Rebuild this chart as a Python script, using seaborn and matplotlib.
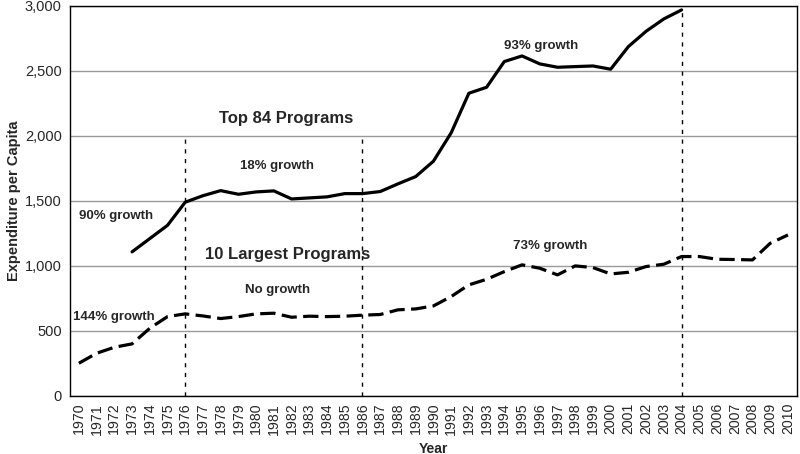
import numpy as np
import pandas as pd
import matplotlib
matplotlib.use("Agg")
import matplotlib.pyplot as plt
import seaborn as sns

years = list(range(1970, 2011))
top84 = [np.nan, np.nan, np.nan, 1108, 1210, 1312, 1490, 1540, 1579, 1551, 1569, 1577,
         1515, 1523, 1531, 1556, 1556, 1572, 1631, 1687, 1805, 2023, 2328, 2374, 2572,
         2615, 2554, 2528, 2533, 2538, 2513, 2687, 2805, 2900, 2969,
         np.nan, np.nan, np.nan, np.nan, np.nan, np.nan]
largest10 = [251, 328, 374, 400, 520, 610, 631, 615, 595, 610, 631, 636, 605, 613, 610,
             613, 621, 626, 662, 669, 692, 764, 854, 897, 956, 1008, 982, 931, 1000, 987,
             938, 951, 995, 1013, 1072, 1072, 1051, 1049, 1046, 1174, 1238]
markers_years = [1976, 1986, 2004]
markers_tops = [2000, 2000, 2969]
annotations = [
    ("Top 84 Programs", 1981.7, 2135, 12),
    ("18% growth", 1981.2, 1765, 9.5),
    ("90% growth", 1972.1, 1385, 9.5),
    ("93% growth", 1996.1, 2695, 9.5),
    ("10 Largest Programs", 1981.8, 1085, 12),
    ("No growth", 1981.2, 815, 9.5),
    ("144% growth", 1972.0, 605, 9.5),
    ("73% growth", 1996.6, 1150, 9.5),
]

sns.set_theme(style="white")
plt.rcParams['font.family'] = ['Liberation Sans', 'DejaVu Sans']

df = pd.DataFrame({"Year": years, "Top 84 Programs": top84, "10 Largest Programs": largest10})

fig = plt.figure(figsize=(8, 4.54), dpi=100)
ax = fig.add_axes([0.0875, 0.128, 0.9085, 0.859])

sns.lineplot(data=df, x="Year", y="Top 84 Programs", ax=ax, color="black", lw=2.3)
sns.lineplot(data=df, x="Year", y="10 Largest Programs", ax=ax, color="black", lw=2.3,
             linestyle=(0, (4.8, 2.0)))

ax.set_ylim(0, 3000)
ax.set_xlim(1969.5, 2010.5)
ax.set_yticks(range(0, 3001, 500))
ax.set_yticklabels([f"{v:,}" for v in range(0, 3001, 500)], fontsize=10.5)
ax.set_xticks(years)
ax.set_xticklabels([str(y) for y in years], rotation=90, fontsize=10.2)
ax.set_xticks(np.arange(1969.5, 2011, 1), minor=True)
ax.tick_params(axis="x", which="major", length=0, pad=5)
ax.tick_params(axis="x", which="minor", length=4, width=1, color="black", direction="out")
ax.tick_params(axis="y", which="major", length=4, width=1, color="black", direction="out", pad=2)
ax.yaxis.grid(True, color="#999999", lw=1)
ax.set_axisbelow(True)
for s in ax.spines.values():
    s.set_visible(True)
    s.set_color("black")
    s.set_linewidth(1)

for yr, top in zip(markers_years, markers_tops):
    ax.vlines(yr, 0, top, colors="black", linestyles=(0, (3, 4)), lw=1)

for txt, x, y, fs in annotations:
    ax.text(x, y, txt, ha="center", va="center", fontsize=fs, fontweight="bold")

ax.set_xlabel("Year", fontsize=10, fontweight="bold", labelpad=5)
ax.set_ylabel("Expenditure per Capita", fontsize=10.5, fontweight="bold", labelpad=3)

fig.savefig("out.png", dpi=100)
